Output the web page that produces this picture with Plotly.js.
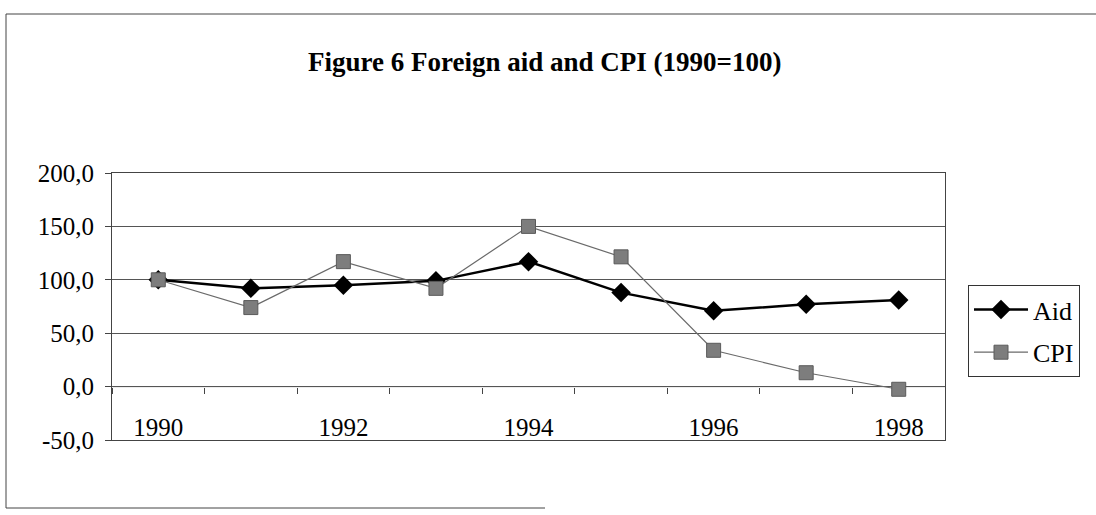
<!DOCTYPE html>
<html>
<head>
<meta charset="utf-8">
<script src="https://cdn.plot.ly/plotly-3.0.1.min.js"></script>
<style>
  html, body { margin: 0; padding: 0; background: #fff; }
  #chart { width: 1096px; height: 515px; }
</style>
</head>
<body>
<div id="chart"></div>
<script>
// ---- data ----
var years = [1990, 1991, 1992, 1993, 1994, 1995, 1996, 1997, 1998];
var aid   = [100, 92, 95, 99, 117, 88, 71, 77, 81];
var cpi   = [100, 74, 117, 92, 150, 121.5, 34, 13, -2.5];
var yTickVals = [-50, 0, 50, 100, 150, 200];
var yTickText = ["-50,0", "0,0", "50,0", "100,0", "150,0", "200,0"];
var xLabelYears = [1990, 1992, 1994, 1996, 1998];
var dividers = [1989.5, 1990.5, 1991.5, 1992.5, 1993.5, 1994.5, 1995.5, 1996.5, 1997.5, 1998.5];

var FONT = "Liberation Serif, Times New Roman, serif";

var traces = [
  {
    x: years, y: aid, name: "Aid", type: "scatter", mode: "lines+markers",
    legendgroup: "a",
    line: { color: "#000000", width: 2.5 },
    marker: { symbol: "diamond", size: 15, color: "#000000" }
  },
  {
    x: years, y: cpi, name: "CPI", type: "scatter", mode: "lines+markers",
    legendgroup: "b",
    line: { color: "#6a6a6a", width: 1.2 },
    marker: { symbol: "square", size: 14, color: "#7d7d7d", line: { color: "#5a5a5a", width: 1 } }
  },
  // invisible traces carrying the helper axes (zero axis with dividers, year labels)
  {
    x: years, y: aid, xaxis: "x2", yaxis: "y", type: "scatter", mode: "none",
    showlegend: false, hoverinfo: "skip"
  },
  {
    x: years, y: aid, xaxis: "x3", yaxis: "y", type: "scatter", mode: "none",
    showlegend: false, hoverinfo: "skip"
  }
];

var layout = {
  width: 1096, height: 515,
  margin: { l: 112, r: 151, t: 173, b: 75, pad: 0 },
  paper_bgcolor: "#ffffff", plot_bgcolor: "#ffffff",
  font: { family: FONT, size: 24, color: "#000" },
  title: {
    text: "<b>Figure 6 Foreign aid and CPI (1990=100)</b>",
    font: { family: FONT, size: 27, color: "#000" },
    x: 0.497, xref: "container", xanchor: "center",
    y: 1 - 62 / 515, yref: "container", yanchor: "middle"
  },
  xaxis: {
    range: [1989.5, 1998.5],
    showticklabels: false, ticks: "",
    showgrid: false, zeroline: false,
    showline: true, linecolor: "#444", linewidth: 1, mirror: true
  },
  xaxis2: {
    overlaying: "x", anchor: "free", position: 0.2, side: "bottom",
    range: [1989.5, 1998.5],
    tickmode: "array", tickvals: dividers, showticklabels: false,
    ticks: "outside", ticklen: 6, tickcolor: "#444", tickwidth: 1,
    showgrid: false, zeroline: false, showline: false
  },
  xaxis3: {
    overlaying: "x", anchor: "free", position: 0.112, side: "bottom",
    range: [1989.5, 1998.5],
    tickmode: "array", tickvals: xLabelYears, ticktext: xLabelYears.map(String),
    ticks: "", showgrid: false, zeroline: false, showline: false,
    tickfont: { family: FONT, size: 25, color: "#000" }
  },
  yaxis: {
    range: [-50, 200],
    tickmode: "array", tickvals: yTickVals, ticktext: yTickText,
    ticks: "outside", ticklen: 6, tickcolor: "#444",
    showgrid: true, gridcolor: "#555", gridwidth: 1,
    zeroline: false,
    showline: true, linecolor: "#444", linewidth: 1, mirror: true,
    tickfont: { family: FONT, size: 25, color: "#000" },
    ticklabelstandoff: 6
  },
  showlegend: true,
  legend: {
    x: (968 - 112) / 833, xanchor: "left",
    y: (440 - 285) / 267, yanchor: "top",
    bordercolor: "#333", borderwidth: 1, bgcolor: "#fff",
    font: { family: FONT, size: 26, color: "#000" },
    tracegroupgap: 6, itemwidth: 54
  },
  shapes: [
    // outer chart frame (left, top, bottom)
    { type: "line", xref: "paper", yref: "paper",
      x0: (6 - 112) / 833, x1: (6 - 112) / 833, y0: (440 - 508) / 267, y1: (440 - 14) / 267,
      line: { color: "#444", width: 1 } },
    { type: "line", xref: "paper", yref: "paper",
      x0: (6 - 112) / 833, x1: (1096 - 112) / 833, y0: (440 - 14) / 267, y1: (440 - 14) / 267,
      line: { color: "#444", width: 1 } },
    { type: "line", xref: "paper", yref: "paper",
      x0: (6 - 112) / 833, x1: (545 - 112) / 833, y0: (440 - 508) / 267, y1: (440 - 508) / 267,
      line: { color: "#444", width: 1 } },
    // zero line of the category axis
    { type: "line", xref: "paper", yref: "y", x0: 0, x1: 1, y0: 0, y1: 0,
      line: { color: "#444", width: 1 }, layer: "below" }
  ]
};

Plotly.newPlot("chart", traces, layout, { displayModeBar: false, staticPlot: true });
</script>
</body>
</html>
